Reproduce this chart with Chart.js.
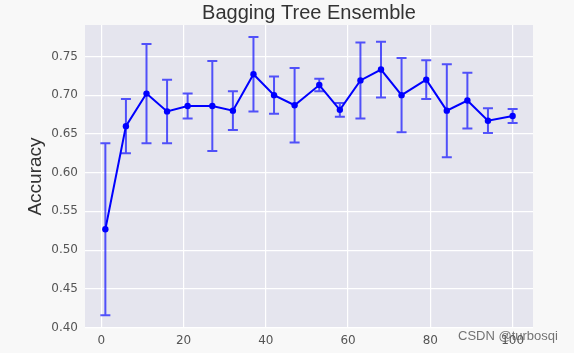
<!DOCTYPE html>
<html>
<head>
<meta charset="utf-8">
<script src="https://cdn.jsdelivr.net/npm/chart.js@4"></script>
<style>
html,body{margin:0;padding:0;background:#f8f8f8;}
#wrap{width:574px;height:353px;position:relative;}
</style>
</head>
<body>
<div id="wrap"><canvas id="c" width="574" height="353"></canvas></div>
<script>
// ---- data ----
const nEstimators = [1, 6, 11, 16, 21, 27, 32, 37, 42, 47, 53, 58, 63, 68, 73, 79, 84, 89, 94, 100];
const meanAccuracy = [0.527, 0.660, 0.702, 0.679, 0.686, 0.686, 0.680, 0.727, 0.700, 0.687, 0.713, 0.681, 0.719, 0.733, 0.700, 0.720, 0.680, 0.693, 0.667, 0.673];
const stdAccuracy = [0.111, 0.035, 0.064, 0.041, 0.016, 0.058, 0.025, 0.048, 0.024, 0.048, 0.008, 0.009, 0.049, 0.036, 0.048, 0.025, 0.060, 0.036, 0.016, 0.009];
const xTicks = [0, 20, 40, 60, 80, 100];
const yTicks = [0.40, 0.45, 0.50, 0.55, 0.60, 0.65, 0.70, 0.75];
const yTickLabels = ['0.40', '0.45', '0.50', '0.55', '0.60', '0.65', '0.70', '0.75'];
const titleText = 'Bagging Tree Ensemble';
const yLabelText = 'Accuracy';
const watermarkText = 'CSDN @turbosqi';

const points = nEstimators.map((x, i) => ({x: x, y: meanAccuracy[i]}));

const bgPlugin = {
  id: 'bg',
  beforeDraw(chart) {
    const {ctx, chartArea: a} = chart;
    ctx.save();
    ctx.fillStyle = '#f8f8f8';
    ctx.fillRect(0, 0, chart.width, chart.height);
    ctx.fillStyle = '#e5e5ee';
    ctx.fillRect(a.left, a.top, a.right - a.left, a.bottom - a.top);
    ctx.restore();
  }
};

const errPlugin = {
  id: 'err',
  beforeDatasetsDraw(chart) {
    const {ctx} = chart;
    const xs = chart.scales.x, ys = chart.scales.y;
    ctx.save();
    ctx.strokeStyle = 'rgba(0,0,255,0.65)';
    ctx.lineWidth = 2;
    nEstimators.forEach((xv, i) => {
      const px = xs.getPixelForValue(xv);
      const top = ys.getPixelForValue(meanAccuracy[i] + stdAccuracy[i]);
      const bot = ys.getPixelForValue(meanAccuracy[i] - stdAccuracy[i]);
      ctx.beginPath();
      ctx.moveTo(px, top); ctx.lineTo(px, bot);
      ctx.moveTo(px - 5, top); ctx.lineTo(px + 5, top);
      ctx.moveTo(px - 5, bot); ctx.lineTo(px + 5, bot);
      ctx.stroke();
    });
    ctx.restore();
  }
};

const textPlugin = {
  id: 'texts',
  afterDraw(chart) {
    const {ctx, chartArea: a} = chart;
    ctx.save();
    ctx.fillStyle = '#333333';
    ctx.font = '20px "Liberation Sans", Arial, sans-serif';
    ctx.textAlign = 'center';
    ctx.textBaseline = 'middle';
    ctx.fillText(titleText, (a.left + a.right) / 2, 13);
    ctx.save();
    ctx.translate(36, (a.top + a.bottom) / 2);
    ctx.rotate(-Math.PI / 2);
    ctx.font = '19px "Liberation Sans", Arial, sans-serif';
    ctx.fillText(yLabelText, 0, 0);
    ctx.restore();
    ctx.fillStyle = 'rgba(90,90,90,0.85)';
    ctx.font = '13px "Liberation Sans", Arial, sans-serif';
    ctx.textAlign = 'left';
    ctx.fillText(watermarkText, 458, 336);
    ctx.restore();
  }
};

new Chart(document.getElementById('c'), {
  type: 'line',
  data: {
    datasets: [{
      data: points,
      borderColor: '#0000ff',
      backgroundColor: '#0000ff',
      borderWidth: 2,
      pointRadius: 3.2,
      pointHoverRadius: 3.2,
      pointBorderWidth: 0,
      tension: 0,
      fill: false
    }]
  },
  options: {
    responsive: false,
    animation: false,
    layout: {padding: {left: 0, right: 41, top: 25, bottom: 0}},
    plugins: {legend: {display: false}, title: {display: false}, tooltip: {enabled: false}},
    scales: {
      x: {
        type: 'linear',
        min: -3.95,
        max: 104.95,
        afterBuildTicks(s) { s.ticks = xTicks.map(v => ({value: v})); },
        afterFit(s) { s.height = 25; },
        border: {display: false},
        grid: {color: '#ffffff', lineWidth: 1.2, drawTicks: false},
        ticks: {
          padding: 6,
          color: '#555555',
          font: {family: '"DejaVu Sans", sans-serif', size: 12},
          maxRotation: 0,
          callback: (v) => String(v)
        }
      },
      y: {
        type: 'linear',
        min: 0.3995,
        max: 0.7905,
        afterBuildTicks(s) { s.ticks = yTicks.map(v => ({value: v})); },
        afterFit(s) { s.width = 85; },
        border: {display: false},
        grid: {color: '#ffffff', lineWidth: 1.2, drawTicks: false},
        ticks: {
          padding: 7,
          color: '#555555',
          font: {family: '"DejaVu Sans", sans-serif', size: 12},
          callback: (v) => { const i = yTicks.findIndex(t => Math.abs(t - v) < 1e-9); return i >= 0 ? yTickLabels[i] : ''; }
        }
      }
    }
  },
  plugins: [bgPlugin, errPlugin, textPlugin]
});
</script>
</body>
</html>
